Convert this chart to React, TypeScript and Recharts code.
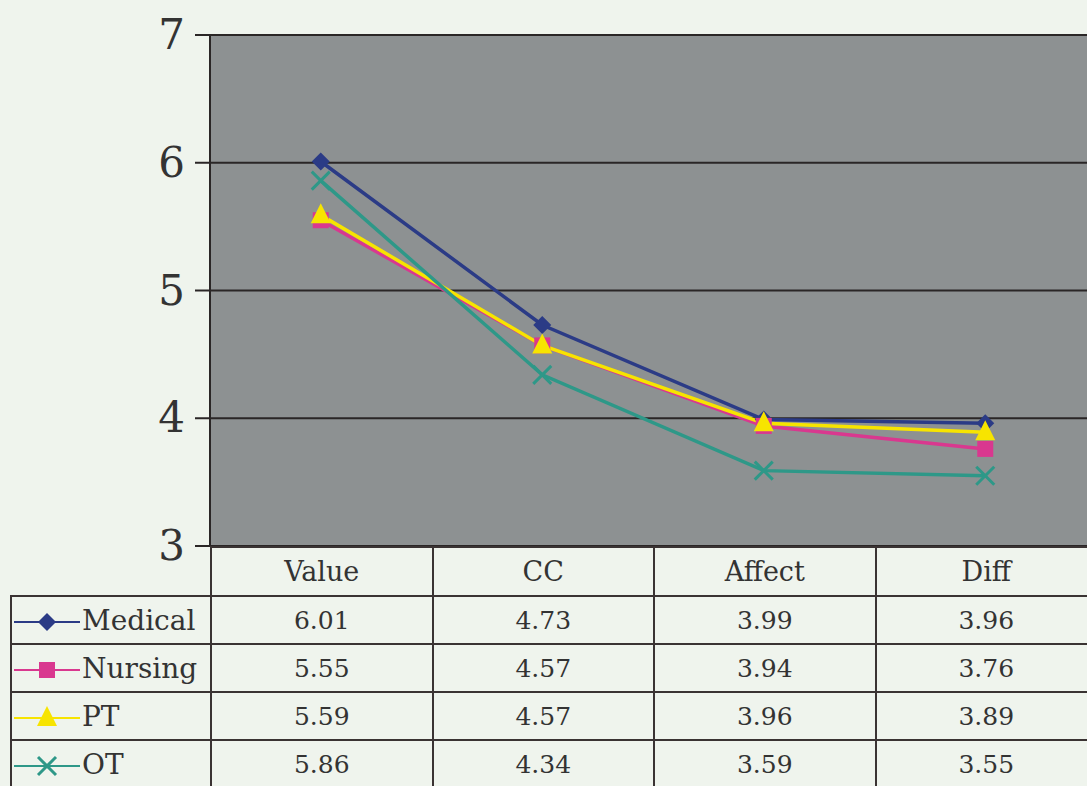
import { LineChart, Line, XAxis, YAxis, CartesianGrid } from "recharts";

const categories = ["Value", "CC", "Affect", "Diff"];
const medical = [6.01, 4.73, 3.99, 3.96];
const nursing = [5.55, 4.57, 3.94, 3.76];
const pt = [5.59, 4.57, 3.96, 3.89];
const ot = [5.86, 4.34, 3.59, 3.55];
const yTicks = [3, 4, 5, 6, 7];

const series = [
  { key: "Medical", values: medical, color: "#2b3b86", shape: "diamond" },
  { key: "Nursing", values: nursing, color: "#d9388f", shape: "square" },
  { key: "PT", values: pt, color: "#f7e400", shape: "triangle" },
  { key: "OT", values: ot, color: "#2e9888", shape: "x" },
];

const data = categories.map((name, i) => {
  const row: any = { name };
  series.forEach((s) => (row[s.key] = s.values[i]));
  return row;
});

const FONT = "'DejaVu Serif', 'Liberation Serif', serif";

const Marker = ({ cx, cy, shape, color }: any) => {
  if (cx == null || cy == null) return null;
  if (shape === "diamond")
    return <polygon points={`${cx},${cy - 9} ${cx + 9},${cy} ${cx},${cy + 9} ${cx - 9},${cy}`} fill={color} />;
  if (shape === "square")
    return <rect x={cx - 8} y={cy - 8} width={16} height={16} fill={color} />;
  if (shape === "triangle")
    return <polygon points={`${cx},${cy - 12} ${cx + 10},${cy + 8} ${cx - 10},${cy + 8}`} fill={color} />;
  return (
    <g stroke={color} strokeWidth={3}>
      <line x1={cx - 9} y1={cy - 9} x2={cx + 9} y2={cy + 9} />
      <line x1={cx - 9} y1={cy + 9} x2={cx + 9} y2={cy - 9} />
    </g>
  );
};

const LegendKey = ({ shape, color }: any) => (
  <svg width={70} height={26} style={{ verticalAlign: "middle" }}>
    <line x1={2} y1={13} x2={68} y2={13} stroke={color} strokeWidth={2} />
    <Marker cx={35} cy={13} shape={shape} color={color} />
  </svg>
);

const YTick = ({ x, y, payload }: any) => (
  <text x={x - 8} y={y + 14} textAnchor="end" fontSize={42} fill="#333" fontFamily={FONT}>
    {payload.value}
  </text>
);

const border = "2px solid #3a3333";
const colW = 221.5;

const App = () => {
  return (
    <div
      style={{
        position: "absolute",
        left: 0,
        top: 0,
        width: 1087,
        height: 786,
        overflow: "hidden",
        background: "#eff4ed",
      }}
    >
      <LineChart
        width={1096}
        height={600}
        data={data}
        margin={{ top: 35, right: 0, bottom: 54, left: 0 }}
      >
        <CartesianGrid vertical={false} fill="#8d9192" stroke="#2a2626" strokeWidth={2} />
        <XAxis dataKey="name" hide padding={{ left: colW / 2, right: colW / 2 }} />
        <YAxis
          width={210}
          domain={[3, 7]}
          ticks={yTicks}
          tickSize={15}
          tick={<YTick />}
          stroke="#2a2626"
          strokeWidth={2}
        />
        {series.map((s) => (
          <Line
            key={s.key}
            dataKey={s.key}
            stroke={s.color}
            strokeWidth={3.5}
            isAnimationActive={false}
            dot={(p: any) => <Marker key={p.index} cx={p.cx} cy={p.cy} shape={s.shape} color={s.color} />}
          />
        ))}
      </LineChart>
      <table
        style={{
          position: "absolute",
          left: 10,
          top: 546,
          width: 1086,
          borderCollapse: "collapse",
          fontFamily: FONT,
          color: "#333",
          tableLayout: "fixed",
        }}
      >
        <colgroup>
          <col style={{ width: 200 }} />
          {categories.map((c) => (
            <col key={c} style={{ width: colW }} />
          ))}
        </colgroup>
        <tbody>
          <tr style={{ height: 49 }}>
            <td />
            {categories.map((c) => (
              <td key={c} style={{ border, textAlign: "center", fontSize: 27 }}>
                {c}
              </td>
            ))}
          </tr>
          {series.map((s) => (
            <tr key={s.key} style={{ height: 48 }}>
              <td style={{ border, padding: 0, fontSize: 28, whiteSpace: "nowrap" }}>
                <LegendKey shape={s.shape} color={s.color} />
                {s.key}
              </td>
              {s.values.map((v, i) => (
                <td key={i} style={{ border, textAlign: "center", fontSize: 25 }}>
                  {v.toFixed(2)}
                </td>
              ))}
            </tr>
          ))}
        </tbody>
      </table>
    </div>
  );
};

export default App;
